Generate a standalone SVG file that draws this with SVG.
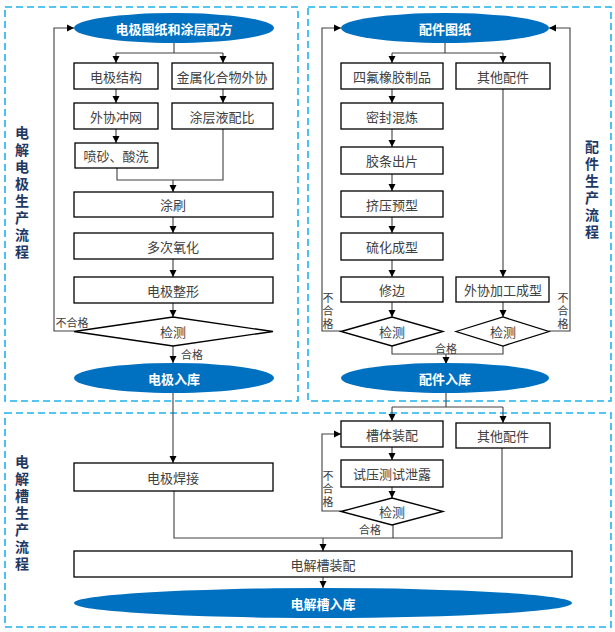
<svg xmlns="http://www.w3.org/2000/svg" width="615" height="632" viewBox="0 0 615 632">
<defs>
<marker id="ah" markerWidth="8" markerHeight="8" refX="7" refY="4" orient="auto" markerUnits="userSpaceOnUse">
<path d="M0,0.5 L7,4 L0,7.5 Z" fill="#000"/>
</marker>
<style>
.panel{fill:none;stroke:#1FB2EE;stroke-width:1.6;stroke-dasharray:7 4}
.box{fill:#fff;stroke:#000;stroke-width:1.3}
.dia{fill:#fff;stroke:#000;stroke-width:1.3}
.ell{fill:#0070C0}
.t{font-family:"Noto Sans CJK SC","Liberation Sans",sans-serif;font-size:13px;fill:#404040;text-anchor:middle;dominant-baseline:central}
.et{font-family:"Noto Sans CJK SC","Liberation Sans",sans-serif;font-size:13px;font-weight:bold;fill:#fff;text-anchor:middle;dominant-baseline:central}
.side{font-family:"Noto Sans CJK SC","Liberation Sans",sans-serif;font-size:14px;font-weight:bold;fill:#1F3864;writing-mode:vertical-rl;letter-spacing:3px}
.lbl{font-family:"Noto Sans CJK SC","Liberation Sans",sans-serif;font-size:11px;fill:#404040;text-anchor:middle;dominant-baseline:central}
.vl{font-family:"Noto Sans CJK SC","Liberation Sans",sans-serif;font-size:11px;fill:#404040;writing-mode:vertical-rl;letter-spacing:2px}
.c{fill:none;stroke:#404040;stroke-width:1.1}
.a{fill:none;stroke:#404040;stroke-width:1.1;marker-end:url(#ah)}
</style>
</defs>
<rect width="615" height="632" fill="#fff"/>
<g id="panels">
<rect class="panel" x="5" y="7" width="293" height="394"/>
<rect class="panel" x="308" y="7" width="303" height="394"/>
<rect class="panel" x="5" y="413" width="606" height="214"/>
</g>
<g id="side-labels">
<text class="side" x="22" y="126">电解电极生产流程</text>
<text class="side" x="592" y="140">配件生产流程</text>
<text class="side" x="22" y="455">电解槽生产流程</text>
</g>
<g id="connectors">
<path class="c" d="M174,43 V53 M116,53 H223"/>
<path class="a" d="M116,53 V63"/><path class="a" d="M223,53 V63"/>
<path class="a" d="M116,89 V103"/><path class="a" d="M223,89 V103"/>
<path class="a" d="M116,129 V143"/>
<path class="c" d="M117,168 V180 H223 V129"/>
<path class="a" d="M173,180 V192"/>
<path class="a" d="M173,217 V233"/>
<path class="a" d="M173,259 V277"/>
<path class="a" d="M173,303 V317"/>
<path class="a" d="M74,331 H54 V28 H74"/>
<path class="a" d="M173,346 V363"/>
<path class="a" d="M173,393 V463"/>
<path class="c" d="M174,491 V538 H502 V448 M393,525 V538"/>
<path class="a" d="M323,538 V551"/>
<path class="a" d="M323,577 V588"/>
<path class="c" d="M445,43 V53 M392,53 H503"/>
<path class="a" d="M392,53 V63"/><path class="a" d="M503,53 V63"/>
<path class="a" d="M392,89 V103"/>
<path class="a" d="M392,129 V147"/>
<path class="a" d="M392,174 V191"/>
<path class="a" d="M392,217 V233"/>
<path class="a" d="M392,260 V277"/>
<path class="a" d="M392,302 V317"/>
<path class="a" d="M503,89 V277"/>
<path class="a" d="M503,302 V317"/>
<path class="a" d="M341,331 H322 V28 H341"/>
<path class="a" d="M549,331 H570 V28 H549"/>
<path class="c" d="M392,346 V354 H503 V346"/>
<path class="a" d="M446,354 V364"/>
<path class="c" d="M446,393 V407 M392,407 H503"/>
<path class="a" d="M392,407 V421"/><path class="a" d="M503,407 V423"/>
<path class="a" d="M392,447 V460"/>
<path class="a" d="M392,487 V498"/>
<path class="a" d="M341,511 H322 V434 H341"/>
</g>
<g id="connector-labels">
<text class="lbl" x="72" y="322">不合格</text>
<text class="lbl" x="192" y="354">合格</text>
<text class="lbl" x="446" y="348">合格</text>
<text class="vl" x="328" y="292">不合格</text>
<text class="vl" x="563" y="292">不合格</text>
<text class="vl" x="328" y="470">不合格</text>
<text class="lbl" x="370" y="529">合格</text>
</g>
<g id="n-start1"><ellipse class="ell" cx="174" cy="28" rx="100" ry="15"/><text class="et" x="174" y="28">电极图纸和涂层配方</text></g>
<g id="n-jiegou"><rect class="box" x="74" y="63" width="84" height="26"/><text class="t" x="116" y="76">电极结构</text></g>
<g id="n-jinshu"><rect class="box" x="172" y="63" width="101" height="26"/><text class="t" x="222" y="76">金属化合物外协</text></g>
<g id="n-chongwang"><rect class="box" x="74" y="103" width="84" height="26"/><text class="t" x="116" y="116">外协冲网</text></g>
<g id="n-peibi"><rect class="box" x="172" y="103" width="101" height="26"/><text class="t" x="222" y="116">涂层液配比</text></g>
<g id="n-pensha"><rect class="box" x="75" y="143" width="83" height="25"/><text class="t" x="116" y="155.5">喷砂、酸洗</text></g>
<g id="n-tushua"><rect class="box" x="74" y="192" width="199" height="25"/><text class="t" x="173" y="204.5">涂刷</text></g>
<g id="n-yanghua"><rect class="box" x="74" y="233" width="199" height="26"/><text class="t" x="173" y="246">多次氧化</text></g>
<g id="n-zhengxing"><rect class="box" x="74" y="277" width="199" height="26"/><text class="t" x="173" y="290">电极整形</text></g>
<g id="n-jiance1"><polygon class="dia" points="74,331.5 173,317 273,331.5 173,346"/><text class="t" x="173" y="331">检测</text></g>
<g id="n-rukul"><ellipse class="ell" cx="174" cy="378" rx="100" ry="15"/><text class="et" x="174" y="378">电极入库</text></g>
<g id="n-start2"><ellipse class="ell" cx="445" cy="28" rx="104" ry="15"/><text class="et" x="445" y="28">配件图纸</text></g>
<g id="n-sifu"><rect class="box" x="341" y="63" width="102" height="26"/><text class="t" x="392" y="76">四氟橡胶制品</text></g>
<g id="n-qita1"><rect class="box" x="456" y="63" width="94" height="26"/><text class="t" x="503" y="76">其他配件</text></g>
<g id="n-hunlian"><rect class="box" x="341" y="103" width="102" height="26"/><text class="t" x="392" y="116">密封混炼</text></g>
<g id="n-chupian"><rect class="box" x="341" y="147" width="102" height="27"/><text class="t" x="392" y="160.5">胶条出片</text></g>
<g id="n-yuxing"><rect class="box" x="341" y="191" width="102" height="26"/><text class="t" x="392" y="204">挤压预型</text></g>
<g id="n-liuhua"><rect class="box" x="341" y="233" width="102" height="27"/><text class="t" x="392" y="246.5">硫化成型</text></g>
<g id="n-xiubian"><rect class="box" x="341" y="277" width="102" height="25"/><text class="t" x="392" y="289.5">修边</text></g>
<g id="n-waixie"><rect class="box" x="456" y="277" width="93" height="25"/><text class="t" x="503" y="289.5">外协加工成型</text></g>
<g id="n-jiance2"><polygon class="dia" points="341,331.5 392,317 443,331.5 392,346"/><text class="t" x="392" y="331">检测</text></g>
<g id="n-jiance3"><polygon class="dia" points="456,331.5 503,317 549,331.5 503,346"/><text class="t" x="503" y="331">检测</text></g>
<g id="n-ruku2"><ellipse class="ell" cx="445" cy="378" rx="104" ry="15"/><text class="et" x="445" y="378">配件入库</text></g>
<g id="n-hanjie"><rect class="box" x="74" y="463" width="199" height="28"/><text class="t" x="173" y="477">电极焊接</text></g>
<g id="n-caoti"><rect class="box" x="341" y="421" width="102" height="26"/><text class="t" x="392" y="434">槽体装配</text></g>
<g id="n-qita2"><rect class="box" x="456" y="423" width="94" height="25"/><text class="t" x="503" y="435.5">其他配件</text></g>
<g id="n-shiya"><rect class="box" x="341" y="460" width="102" height="27"/><text class="t" x="392" y="473.5">试压测试泄露</text></g>
<g id="n-jiance4"><polygon class="dia" points="341,511.5 392,498 443,511.5 392,525"/><text class="t" x="392" y="511">检测</text></g>
<g id="n-zhuangpei"><rect class="box" x="74" y="551" width="498" height="26"/><text class="t" x="323" y="564">电解槽装配</text></g>
<g id="n-ruku3"><ellipse class="ell" cx="323" cy="603" rx="249" ry="15"/><text class="et" x="323" y="603">电解槽入库</text></g>
</svg>
